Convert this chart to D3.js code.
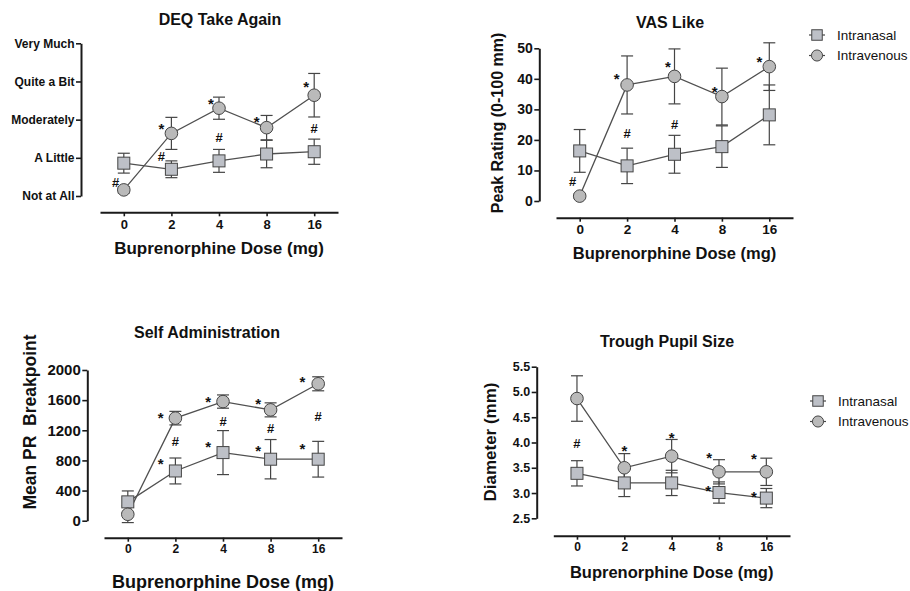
<!DOCTYPE html>
<html>
<head>
<meta charset="utf-8">
<script src="https://cdn.jsdelivr.net/npm/d3@7"></script>
<style>
  body { margin: 0; background: #fff; }
  text { font-family: Arial, "Liberation Sans", sans-serif; fill: #111; }
</style>
</head>
<body>
<svg id="chart" width="910" height="591"></svg>
<script>
// doses on the x axis, shared by all four panels
const doses = ["0", "2", "4", "8", "16"];
const seriesNames = ["Intranasal", "Intravenous"];

// DEQ Take Again (0 = Not at All ... 4 = Very Much)
const deqLabels = ["Not at All", "A Little", "Moderately", "Quite a Bit", "Very Much"];
const deqIntranasal = [0.86, 0.70, 0.92, 1.10, 1.16];
const deqIntranasalErr = [0.26, 0.22, 0.30, 0.36, 0.33];
const deqIntravenous = [0.16, 1.64, 2.30, 1.79, 2.64];
const deqIntravenousErr = [0.08, 0.42, 0.29, 0.32, 0.57];
// [dose, value, symbol, shift in dose steps]
const deqMarks = [["0", 0.37, "#", -0.17], ["2", 1.05, "#", -0.21], ["4", 1.54, "#", 0], ["16", 1.78, "#", 0],
  ["2", 1.86, "*", -0.21], ["4", 2.51, "*", -0.17], ["8", 2.04, "*", -0.21], ["16", 2.95, "*", -0.17]];

// VAS Like
const vasTicks = [0, 10, 20, 30, 40, 50];
const vasIntranasal = [16.4, 11.5, 15.3, 17.8, 28.2];
const vasIntranasalErr = [7.0, 5.8, 6.2, 6.8, 9.8];
const vasIntravenous = [1.6, 38.0, 40.8, 34.2, 44.0];
const vasIntravenousErr = [0.8, 9.5, 9.0, 9.3, 7.8];
const vasMarks = [["0", 6.3, "#", -0.15], ["2", 22.2, "#", 0], ["4", 25.1, "#", 0],
  ["2", 41.3, "*", -0.22], ["4", 45.1, "*", -0.14], ["8", 36.9, "*", -0.15], ["16", 46.7, "*", -0.21]];

// Self Administration
const saTicks = [0, 400, 800, 1200, 1600, 2000];
const saIntranasal = [250, 660, 904, 816, 816];
const saIntranasalErr = [145, 172, 292, 261, 237];
const saIntravenous = [85, 1361, 1581, 1471, 1817];
const saIntravenousErr = [110, 90, 88, 93, 93];
const saMarks = [["2", 1418, "*", -0.31], ["4", 1627, "*", -0.31], ["8", 1604, "*", -0.26], ["16", 1892, "*", -0.33],
  ["2", 1050, "#", 0], ["4", 1316, "#", 0], ["8", 1228, "#", 0], ["16", 1382, "#", 0],
  ["2", 807, "*", -0.31], ["4", 1029, "*", -0.31], ["8", 983, "*", -0.26], ["16", 1006, "*", -0.33]];

// Trough Pupil Size
const pupilTicks = [2.5, 3.0, 3.5, 4.0, 4.5, 5.0, 5.5];
const pupilIntranasal = [3.39, 3.20, 3.20, 3.01, 2.90];
const pupilIntranasalErr = [0.25, 0.27, 0.25, 0.21, 0.19];
const pupilIntravenous = [4.87, 3.50, 3.73, 3.42, 3.42];
const pupilIntravenousErr = [0.45, 0.28, 0.33, 0.24, 0.27];
const pupilMarks = [["0", 3.98, "#", 0], ["2", 3.92, "*", 0], ["4", 4.16, "*", 0],
  ["8", 3.78, "*", -0.21], ["16", 3.75, "*", -0.26], ["8", 3.12, "*", -0.23], ["16", 3.01, "*", -0.26]];

const svg = d3.select("#chart");

const squareFill = "#bdc0c7";
const circleFill = "#bababa";
const stroke = "#454545";
const sq = 12;

const panels = [
  {
    title: "DEQ Take Again", titleX: 220, titleY: 19,
    yAxisX: 81, yRange: [196, 43.3], domain: [0, 4], ticks: [0, 1, 2, 3, 4],
    format: i => deqLabels[i], yFont: 12,
    xRange: [100, 338], xAxisY: 212.3, xFont: 13, xTitleY: 248, xTitleFont: 17,
    series: [[deqIntranasal, deqIntranasalErr], [deqIntravenous, deqIntravenousErr]],
    marks: deqMarks
  },
  {
    title: "VAS Like", titleX: 670, titleY: 22,
    yTitle: "Peak Rating (0-100 mm)", yTitleX: 497, yTitleY: 123, yTitleFont: 16,
    yAxisX: 539.3, yRange: [201, 48.3], domain: [0, 50], ticks: vasTicks,
    format: d3.format("d"), yFont: 14,
    xRange: [556, 793], xAxisY: 217.7, xFont: 13.5, xTitleY: 253, xTitleFont: 16.5,
    series: [[vasIntranasal, vasIntranasalErr], [vasIntravenous, vasIntravenousErr]],
    marks: vasMarks,
    legend: [817, 35]
  },
  {
    title: "Self Administration", titleX: 207, titleY: 332,
    yTitle: "Mean PR\u00a0\u00a0Breakpoint", yTitleX: 30, yTitleY: 422, yTitleFont: 17.5,
    yAxisX: 87.3, yRange: [520.7, 370], domain: [0, 2000], ticks: saTicks,
    format: d3.format("d"), yFont: 15,
    xRange: [104, 342], xAxisY: 537.7, xFont: 12, xTitleY: 582, xTitleFont: 18,
    series: [[saIntranasal, saIntranasalErr], [saIntravenous, saIntravenousErr]],
    marks: saMarks
  },
  {
    title: "Trough Pupil Size", titleX: 667, titleY: 341,
    yTitle: "Diameter (mm)", yTitleX: 490, yTitleY: 442, yTitleFont: 17,
    yAxisX: 536.7, yRange: [518.3, 366.7], domain: [2.5, 5.5], ticks: pupilTicks,
    format: d3.format(".1f"), yFont: 12.5,
    xRange: [553.3, 790], xAxisY: 535.7, xFont: 12, xTitleY: 572, xTitleFont: 16.5,
    series: [[pupilIntranasal, pupilIntranasalErr], [pupilIntravenous, pupilIntravenousErr]],
    marks: pupilMarks,
    legend: [818, 401]
  }
];

function drawMarker(g, kind, x, y, size) {
  if (kind === 0) {
    g.append("rect")
     .attr("x", x - size / 2).attr("y", y - size / 2)
     .attr("width", size).attr("height", size)
     .attr("fill", squareFill).attr("stroke", stroke).attr("stroke-width", 1);
  } else {
    g.append("circle")
     .attr("cx", x).attr("cy", y).attr("r", size / 2 + 0.3)
     .attr("fill", circleFill).attr("stroke", stroke).attr("stroke-width", 1);
  }
}

panels.forEach(p => {
  const g = svg.append("g");

  const x = d3.scalePoint().domain(doses).range(p.xRange).padding(0.5);
  const y = d3.scaleLinear().domain(p.domain).range(p.yRange);

  // y axis
  const ya = g.append("g")
              .attr("transform", `translate(${p.yAxisX},0)`)
              .call(d3.axisLeft(y).tickValues(p.ticks).tickFormat(p.format)
                      .tickSize(5).tickSizeOuter(0).tickPadding(1.5));
  ya.select(".domain").attr("stroke", "#1a1a1a").attr("stroke-width", 2);
  ya.selectAll(".tick line").attr("stroke", "#1a1a1a").attr("stroke-width", 1.6);
  ya.selectAll(".tick text")
    .attr("font-family", "Arial, 'Liberation Sans', sans-serif")
    .attr("font-size", p.yFont).attr("font-weight", "bold").attr("fill", "#111");

  // x axis
  const xa = g.append("g")
              .attr("transform", `translate(0,${p.xAxisY})`)
              .call(d3.axisBottom(x).tickSize(4).tickSizeOuter(0).tickPadding(3));
  xa.select(".domain").attr("stroke", "#1a1a1a").attr("stroke-width", 2);
  xa.selectAll(".tick line").attr("stroke", "#1a1a1a").attr("stroke-width", 1.6);
  xa.selectAll(".tick text")
    .attr("font-family", "Arial, 'Liberation Sans', sans-serif")
    .attr("font-size", p.xFont).attr("font-weight", "bold").attr("fill", "#111");

  // titles
  g.append("text")
   .attr("x", p.titleX).attr("y", p.titleY).attr("dy", "0.35em")
   .attr("text-anchor", "middle").attr("font-size", 16).attr("font-weight", "bold")
   .text(p.title);

  g.append("text")
   .attr("x", (p.xRange[0] + p.xRange[1]) / 2).attr("y", p.xTitleY).attr("dy", "0.35em")
   .attr("text-anchor", "middle").attr("font-size", p.xTitleFont).attr("font-weight", "bold")
   .text("Buprenorphine Dose (mg)");

  if (p.yTitle) {
    g.append("text")
     .attr("transform", `translate(${p.yTitleX},${p.yTitleY}) rotate(-90)`)
     .attr("dy", "0.35em")
     .attr("text-anchor", "middle").attr("font-size", p.yTitleFont).attr("font-weight", "bold")
     .text(p.yTitle);
  }

  const line = d3.line().x((d, i) => x(doses[i])).y(d => y(d));

  // connecting lines
  p.series.forEach(([vals]) => {
    g.append("path")
     .attr("d", line(vals))
     .attr("fill", "none").attr("stroke", "#505050").attr("stroke-width", 1.3);
  });

  // error bars
  p.series.forEach(([vals, errs]) => {
    vals.forEach((v, i) => {
      const cx = x(doses[i]);
      const top = y(v + errs[i]);
      const bot = y(v - errs[i]);
      g.append("line").attr("x1", cx).attr("x2", cx).attr("y1", top).attr("y2", bot)
       .attr("stroke", stroke).attr("stroke-width", 1.2);
      [top, bot].forEach(yy => {
        g.append("line").attr("x1", cx - 6).attr("x2", cx + 6).attr("y1", yy).attr("y2", yy)
         .attr("stroke", stroke).attr("stroke-width", 1.2);
      });
    });
  });

  // markers
  p.series.forEach(([vals], k) => {
    vals.forEach((v, i) => drawMarker(g, k, x(doses[i]), y(v), sq));
  });

  // significance symbols
  p.marks.forEach(([dose, v, sym, shift]) => {
    g.append("text")
     .attr("x", x(dose) + shift * x.step()).attr("y", y(v))
     .attr("dy", sym === "*" ? "0.6em" : "0.36em")
     .attr("text-anchor", "middle")
     .attr("font-size", sym === "*" ? 15 : 13)
     .attr("font-weight", "bold")
     .attr("fill", "#222")
     .text(sym);
  });

  // legend
  if (p.legend) {
    const [lx, ly] = p.legend;
    seriesNames.forEach((name, k) => {
      const yy = ly + k * 20.5;
      g.append("line").attr("x1", lx - 8).attr("x2", lx + 8).attr("y1", yy).attr("y2", yy)
       .attr("stroke", stroke).attr("stroke-width", 1.2);
      drawMarker(g, k, lx, yy, 10.5);
      g.append("text")
       .attr("x", lx + 20).attr("y", yy).attr("dy", "0.35em")
       .attr("font-size", 13.5).attr("fill", "#222")
       .text(name);
    });
  }
});
</script>
</body>
</html>
